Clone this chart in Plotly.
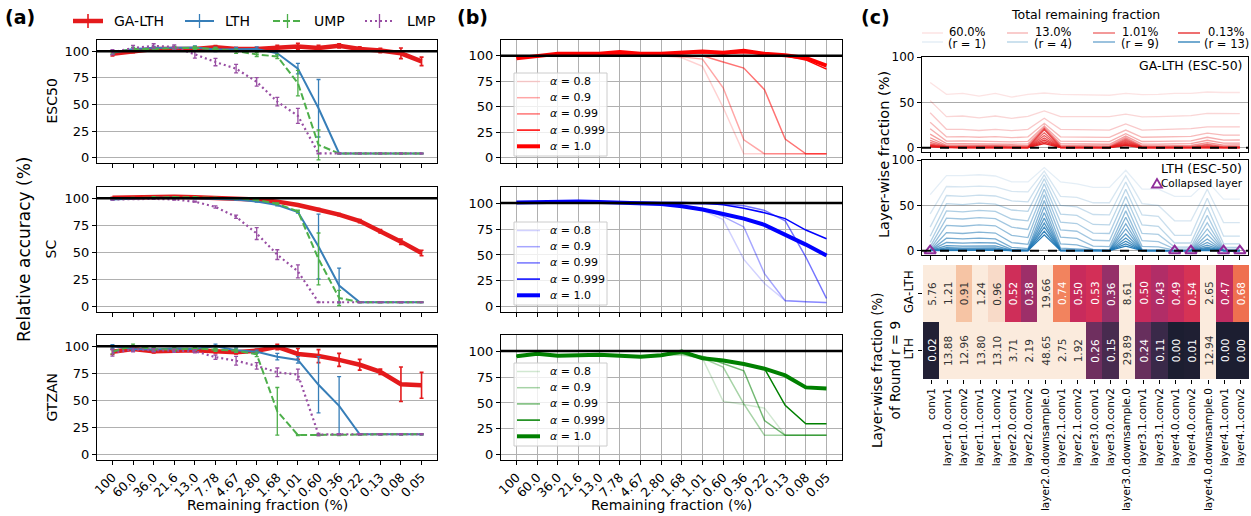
import plotly.graph_objects as go

W, H = 1251, 516
def X(px): return px / W
def Y(py): return 1 - py / H

FONT = "DejaVu Sans"

# ---------------- data ----------------
x_labels = ["100", "60.0", "36.0", "21.6", "13.0", "7.78", "4.67", "2.80",
            "1.68", "1.01", "0.60", "0.36", "0.22", "0.13", "0.08", "0.05"]
dataset_names = ["ESC50", "SC", "GTZAN"]

# Panel (a) - ESC50
ga_esc = [97.5, 100, 102, 102, 102, 103.7, 102, 102, 103, 104.3, 103, 105, 102, 100.6, 98, 90.4]
ga_esc_err = [2, 1.5, 1.5, 1.5, 2, 1.5, 1.5, 1.5, 2.5, 3, 2.5, 2, 2, 2, 5, 4]
lth_esc = [98.5, 102, 103, 103, 103.5, 101.5, 102, 102, 98, 83.6, 46.4, 4, 4, 4, 4, 4]
lth_esc_err = [1.5, 1.5, 1.5, 1.5, 1.5, 2, 1.5, 2, 1.5, 5, 27, 0.3, 0.3, 0.3, 0.3, 0.3]
ump_esc = [99, 102, 102, 103, 103, 102, 100, 97, 95, 70, 12, 4, 4, 4, 4, 4]
ump_esc_err = [1.5, 1.5, 1.5, 1.5, 1.5, 1.5, 2, 2, 2, 12, 14, 0.3, 0.3, 0.3, 0.3, 0.3]
lmp_esc = [99, 103, 105, 104, 97, 89.8, 83.6, 71.2, 52.6, 39.3, 4, 4, 4, 4, 4, 4]
lmp_esc_err = [2.5, 2.5, 2, 2, 3.5, 3.5, 4, 4, 4, 7, 0.3, 0.3, 0.3, 0.3, 0.3, 0.3]

# Panel (a) - SC
ga_sc = [100.5, 101, 101.5, 101.5, 101, 100.5, 100, 99, 97, 93.8, 89.5, 85, 79, 69.6, 60, 49.5]
ga_sc_err = [0.5, 0.5, 0.5, 0.5, 0.5, 0.5, 0.5, 0.5, 0.5, 0.8, 1, 1, 1.5, 1.5, 2.5, 2.5]
lth_sc = [99, 100, 100.5, 100.5, 100, 99.5, 99, 97, 93.8, 87.3, 55.5, 19.5, 4, 4, 4, 4]
lth_sc_err = [0.5, 0.5, 0.5, 0.5, 0.5, 0.5, 0.5, 0.5, 0.8, 1, 30, 16, 0.3, 0.3, 0.3, 0.3]
ump_sc = [100, 100.5, 101, 101, 101, 100.5, 100, 98.5, 95, 88, 44, 8, 4, 4, 4, 4]
ump_sc_err = [0.5, 0.5, 0.5, 0.5, 0.5, 0.5, 0.5, 0.5, 0.8, 1, 24, 7, 0.3, 0.3, 0.3, 0.3]
lmp_sc = [99, 99.5, 99.5, 99, 97, 92, 83, 67.5, 48, 32.5, 4, 4, 4, 4, 4, 4]
lmp_sc_err = [0.5, 0.5, 0.5, 0.5, 0.5, 1, 1.5, 5.5, 4.5, 6, 0.3, 0.3, 0.3, 0.3, 0.3, 0.3]

# Panel (a) - GTZAN
ga_gt = [95, 97.5, 95.5, 96, 96.5, 95.5, 94.5, 96, 99.5, 93, 91, 87.5, 83, 76.5, 65, 64]
ga_gt_err = [2.5, 1.5, 1.5, 1.5, 1.5, 1.5, 1.5, 1.5, 2.5, 5, 6, 6, 5, 2.5, 16, 12]
lth_gt = [100, 97.5, 97, 98, 97.5, 100, 96.5, 95, 90.5, 87.5, 64.5, 45, 18.8, 18.8, 18.8, 18.8]
lth_gt_err = [1.5, 1.5, 1.5, 1.5, 1.5, 2, 2, 1.5, 3, 3, 26, 27, 0.5, 0.5, 0.5, 0.5]
ump_gt = [95, 100.5, 97.5, 97, 98, 97, 96, 92.6, 40, 18, 18, 18, 18.5, 18.8, 18.8, 18.8]
ump_gt_err = [2, 1.5, 1.5, 1.5, 1.5, 1.5, 1.5, 2, 22, 0.5, 0.5, 0.5, 0.5, 0.5, 0.5, 0.5]
lmp_gt = [94, 97, 96.5, 96, 95.5, 90, 86.7, 82, 76, 74, 18.5, 18.8, 18.8, 18.8, 18.8, 18.8]
lmp_gt_err = [3, 2, 1.5, 1.5, 1.5, 2, 4, 3, 4, 5, 1, 0.5, 0.5, 0.5, 0.5, 0.5]

# Panel (b) - alpha sweeps (alpha = 1.0 equals GA-LTH)
alpha_labels = ["0.8", "0.9", "0.99", "0.999", "1.0"]
esc_a08 = [98, 100, 101, 101, 101, 101, 101, 100, 98, 89.7, 49.4, 4, 4, 4, 4, 4]
esc_a09 = [98, 100, 101, 101, 101, 101, 101, 101, 99, 96.8, 68.7, 17.7, 4, 4, 4, 4]
esc_a099 = [98, 100, 101, 101, 101, 101, 101, 101, 100, 100, 94, 88, 66.8, 18.4, 4, 4]
esc_a0999 = [98, 100, 101, 102, 101, 102, 101, 101, 102, 103, 102, 103, 102, 100, 96, 87]
sc_a08 = [100, 100.5, 101, 101, 100.5, 100, 99.5, 98.5, 97, 93, 84, 45.7, 22.5, 6, 5, 4]
sc_a09 = [100, 100.5, 101, 101, 100.5, 100, 99.5, 99, 97.5, 95, 87, 77, 32, 5.8, 5, 4.2]
sc_a099 = [100.5, 101, 101, 101, 101, 100.5, 100, 100, 99.5, 99, 99, 97.5, 93, 83, 48, 8]
sc_a0999 = [100.5, 101, 101, 101, 101, 101, 101, 100.5, 100.5, 100, 98.4, 95, 90.7, 85, 74, 65.6]
gt_a08 = [95, 97, 95.5, 96, 96.5, 96, 95, 96, 96, 93, 51.6, 48.4, 45, 18.8, 18.8, 18.8]
gt_a09 = [95, 97, 95.5, 96, 96.5, 96, 95, 96, 97, 93, 84.5, 49, 18.8, 18.8, 18.8, 18.8]
gt_a099 = [95, 97, 95.5, 96, 96.5, 96, 95, 96, 98, 95, 88, 81, 33, 18.8, 18.8, 18.8]
gt_a0999 = [95, 97.5, 95.5, 96, 96.5, 95.5, 94.5, 96, 99, 93, 91, 87.5, 83, 47.7, 30, 30]

# Panel (c) - layer-wise remaining fraction (%) per pruning round r = 1..15
layer_names = ["conv1", "layer1.0.conv1", "layer1.0.conv2", "layer1.1.conv1", "layer1.1.conv2",
               "layer2.0.conv1", "layer2.0.conv2", "layer2.0.downsample.0", "layer2.1.conv1",
               "layer2.1.conv2", "layer3.0.conv1", "layer3.0.conv2", "layer3.0.downsample.0",
               "layer3.1.conv1", "layer3.1.conv2", "layer4.0.conv1", "layer4.0.conv2",
               "layer4.0.downsample.0", "layer4.1.conv1", "layer4.1.conv2"]

ga_layer_frac = [
    [72, 59, 60, 57, 60, 56, 59, 60.5, 59, 58.7, 58.7, 58, 60, 58.7, 59, 60, 60, 61.6, 61, 61],
    [52, 34.3, 35, 33, 35, 32.5, 34.7, 40.6, 34.3, 34.3, 34.3, 34.3, 37, 34, 34.3, 35, 35.4, 38, 37.6, 37.6],
    [38.7, 20.3, 20.3, 19, 20.3, 18.8, 20.3, 32.5, 20.3, 20, 19.5, 19.5, 26.2, 19.5, 20, 20.7, 21, 23, 23, 22.9],
    [28, 12, 12.2, 11.5, 12.2, 11, 12, 27, 12, 11.8, 11.6, 11.4, 19.5, 11.5, 11.8, 12.2, 12.5, 16, 13.8, 13.8],
    [21, 7.3, 7.4, 7, 7.4, 6.5, 7, 24, 7.2, 7, 6.8, 6.6, 15.5, 6.8, 6.9, 7.4, 7.6, 11.5, 8.3, 8.5],
    [15, 4.4, 4.5, 4.2, 4.4, 3.8, 4.2, 22.5, 4.3, 4.1, 4, 3.8, 12.8, 4, 4, 4.4, 4.5, 8.2, 5, 5.1],
    [11, 2.7, 2.7, 2.6, 2.6, 2.1, 2.2, 21.3, 2.5, 2.2, 2.2, 1.9, 11, 2.1, 2, 2.3, 2.4, 5.5, 2.8, 3],
    [8, 1.8, 1.6, 1.8, 1.6, 1.1, 1, 20.4, 1.4, 1.1, 1.1, 0.9, 9.6, 1.1, 1, 1.1, 1.2, 3.8, 1.3, 1.5],
    [5.76, 1.21, 0.91, 1.24, 0.96, 0.52, 0.38, 19.66, 0.74, 0.50, 0.53, 0.36, 8.61, 0.50, 0.43, 0.49, 0.54, 2.65, 0.47, 0.68],
    [4.2, 0.8, 0.55, 0.82, 0.6, 0.26, 0.18, 16.5, 0.42, 0.26, 0.28, 0.17, 7.3, 0.25, 0.2, 0.23, 0.26, 1.8, 0.22, 0.36],
    [3.2, 0.55, 0.33, 0.55, 0.36, 0.13, 0.08, 13.5, 0.24, 0.13, 0.15, 0.08, 6.1, 0.12, 0.09, 0.11, 0.12, 1.2, 0.1, 0.19],
    [2.4, 0.36, 0.2, 0.37, 0.22, 0.06, 0.04, 10.8, 0.13, 0.06, 0.07, 0.04, 5, 0.06, 0.04, 0.05, 0.06, 0.8, 0.05, 0.1],
    [1.8, 0.24, 0.12, 0.25, 0.13, 0.03, 0.02, 8.4, 0.07, 0.03, 0.04, 0.02, 4, 0.03, 0.02, 0.02, 0.03, 0.5, 0.02, 0.05],
    [1.3, 0.16, 0.07, 0.17, 0.08, 0.01, 0.01, 6.3, 0.04, 0.01, 0.02, 0.01, 3.1, 0.01, 0.01, 0.01, 0.01, 0.3, 0.01, 0.03],
    [1.0, 0.1, 0.04, 0.11, 0.05, 0.01, 0.0, 4.6, 0.02, 0.01, 0.01, 0.0, 2.4, 0.01, 0.0, 0.01, 0.01, 0.2, 0.01, 0.01],
]

lth_layer_frac = [
    [62, 83, 83, 84, 82.6, 76, 76, 92, 76, 74, 70, 70, 89, 68, 68, 60, 60, 77, 57, 57],
    [40.7, 71, 70.5, 71.5, 70.5, 65.5, 65, 88, 60, 59, 53, 53, 83, 52, 50, 33, 33, 68, 31, 31],
    [26, 61, 60, 61.5, 60.5, 55, 54, 84, 50, 48.5, 40, 39.5, 76, 39.5, 38, 17, 17, 58, 16, 16],
    [16, 52, 51, 52.5, 51.5, 45, 43.5, 79.5, 40.5, 39, 29, 28.5, 68, 28.5, 27, 8.5, 8.5, 48, 7.5, 7.5],
    [9, 44, 43, 44.5, 43.5, 35, 33, 74, 31.5, 30, 19.5, 19, 60, 19, 18, 4, 4, 39, 3.5, 3.5],
    [4.5, 36, 35, 36.5, 35.5, 26, 23.5, 68, 23, 21.5, 11.5, 11, 52, 11, 10, 1.7, 1.7, 31, 1.5, 1.5],
    [1.8, 28, 27, 28.5, 27.5, 17, 14.5, 62, 15, 13.5, 5, 4.5, 44, 4.8, 4.2, 0.6, 0.6, 24, 0.5, 0.5],
    [0.5, 20, 19, 20.5, 19.5, 9, 7, 55.5, 7.5, 6.5, 1.5, 1.2, 37, 1.4, 1.1, 0.15, 0.16, 18, 0.1, 0.1],
    [0.02, 13.88, 12.96, 13.80, 13.10, 3.71, 2.19, 48.65, 2.75, 1.92, 0.26, 0.15, 29.89, 0.24, 0.11, 0.00, 0.01, 12.94, 0.00, 0.00],
    [0, 9, 8.3, 9, 8.5, 1.5, 0.8, 42, 1.0, 0.6, 0.05, 0.03, 24, 0.04, 0.02, 0, 0, 9, 0, 0],
    [0, 5.5, 5, 5.5, 5.2, 0.6, 0.3, 36, 0.35, 0.2, 0.01, 0, 18.5, 0.01, 0, 0, 0, 6, 0, 0],
    [0, 3.2, 2.9, 3.2, 3, 0.2, 0.1, 30.5, 0.12, 0.06, 0, 0, 14, 0, 0, 0, 0, 4, 0, 0],
    [0, 1.8, 1.6, 1.8, 1.7, 0.08, 0.04, 26, 0.04, 0.02, 0, 0, 10.5, 0, 0, 0, 0, 2.5, 0, 0],
    [0, 0.9, 0.8, 0.9, 0.85, 0.03, 0.01, 21.5, 0.01, 0.01, 0, 0, 7.5, 0, 0, 0, 0, 1.5, 0, 0],
    [0, 0.4, 0.35, 0.4, 0.38, 0.01, 0, 17.5, 0, 0, 0, 0, 5, 0, 0, 0, 0, 0.8, 0, 0],
]
collapsed_layers = ["conv1", "layer4.0.conv1", "layer4.0.conv2", "layer4.1.conv1", "layer4.1.conv2"]
heat_round = 9
legend_rounds = [1, 4, 9, 13]

# ---------------- styles ----------------
RED, BLUE, GREEN, PURPLE = "#e41a1c", "#377eb8", "#4daf4a", "#984ea3"
COLLAPSE = "#8e2c9a"
GRID = "#b0b0b0"

def rgba(rgb, a):
    return "rgba(%d,%d,%d,%.3f)" % (rgb[0], rgb[1], rgb[2], a)

def round_alpha(r):
    return 0.06 * r + 0.06

fig = go.Figure()

def axis_base(**kw):
    d = dict(showline=True, linecolor="black", linewidth=1.3, mirror=True,
             ticks="outside", ticklen=4, tickwidth=1, tickcolor="black",
             tickfont=dict(size=13, color="black", family=FONT), zeroline=False,
             automargin=False)
    d.update(kw)
    return d

rows = [(40, 163), (187, 312), (335, 460)]
a_x = (97, 437)
b_x = (501, 842)

layout_axes = {}
for i, (t, b) in enumerate(rows):
    for j, (x0, x1) in enumerate([a_x, b_x]):
        n = i + 1 + 3 * j
        xa = "xaxis" if n == 1 else "xaxis%d" % n
        ya = "yaxis" if n == 1 else "yaxis%d" % n
        yref = "y" if n == 1 else "y%d" % n
        xref = "x" if n == 1 else "x%d" % n
        layout_axes[xa] = axis_base(domain=[X(x0), X(x1)], anchor=yref, type="category",
                                    categoryorder="array", categoryarray=x_labels,
                                    range=[-0.75, 15.75], tickangle=-45,
                                    tickfont=dict(size=12.5, color="black", family=FONT),
                                    showticklabels=(i == 2), showgrid=(j == 1),
                                    gridcolor=GRID, gridwidth=1)
        yr = [-5, 110.5] if j == 0 else [-5, 115.5]
        layout_axes[ya] = axis_base(domain=[Y(b), Y(t)], anchor=xref, range=yr,
                                    tickvals=[0, 25, 50, 75, 100], showgrid=True,
                                    gridcolor=GRID, gridwidth=1)

# ---------------- panel (a) traces ----------------
a_data = [
    (ga_esc, ga_esc_err, lth_esc, lth_esc_err, ump_esc, ump_esc_err, lmp_esc, lmp_esc_err),
    (ga_sc, ga_sc_err, lth_sc, lth_sc_err, ump_sc, ump_sc_err, lmp_sc, lmp_sc_err),
    (ga_gt, ga_gt_err, lth_gt, lth_gt_err, ump_gt, ump_gt_err, lmp_gt, lmp_gt_err),
]
series_style = [("GA-LTH", RED, 4.5, "solid", 1.6),
                ("LTH", BLUE, 2, "solid", 1.3),
                ("UMP", GREEN, 2, "7px,3px", 1.3),
                ("LMP", PURPLE, 2.2, "2px,3px", 1.3)]
for i, dat in enumerate(a_data):
    n = i + 1
    xr = "x" if n == 1 else "x%d" % n
    yr = "y" if n == 1 else "y%d" % n
    for k, (name, col, w, dash, ew) in enumerate(series_style):
        fig.add_trace(go.Scatter(
            x=x_labels, y=dat[2 * k], mode="lines", name=name,
            line=dict(color=col, width=w, dash=dash),
            error_y=dict(type="data", array=dat[2 * k + 1], color=col, thickness=ew, width=2),
            xaxis=xr, yaxis=yr, showlegend=False, hoverinfo="skip"))

# ---------------- panel (b) traces ----------------
b_sets = [
    ([esc_a08, esc_a09, esc_a099, esc_a0999, ga_esc], (255, 0, 0), 73),
    ([sc_a08, sc_a09, sc_a099, sc_a0999, ga_sc], (0, 0, 255), 222),
    ([gt_a08, gt_a09, gt_a099, gt_a0999, ga_gt], (0, 128, 0), 363),
]
b_alpha = [0.18, 0.35, 0.55, 1.0, 1.0]
b_width = [1.5, 1.5, 1.5, 1.5, 4]
for i, (series, rgb, _) in enumerate(b_sets):
    n = i + 4
    for k, ys in enumerate(series):
        fig.add_trace(go.Scatter(
            x=x_labels, y=ys, mode="lines", name="<i>α</i> = " + alpha_labels[k],
            line=dict(color=rgba(rgb, b_alpha[k]), width=b_width[k]),
            xaxis="x%d" % n, yaxis="y%d" % n, showlegend=False, hoverinfo="skip"))

# ---------------- panel (c) ----------------
c_x = (922, 1248)
c_top = (57, 152)
c_bot = (160, 255)
heat_rows = (265, 379)
for n, (t, b) in zip([7, 8], [c_top, c_bot]):
    layout_axes["xaxis%d" % n] = axis_base(domain=[X(c_x[0]), X(c_x[1])], anchor="y%d" % n,
                                           type="category", categoryorder="array",
                                           categoryarray=layer_names, range=[-0.5, 19.5],
                                           showticklabels=False, showgrid=False)
    layout_axes["yaxis%d" % n] = axis_base(domain=[Y(b), Y(t)], anchor="x%d" % n,
                                           range=[-4.8, 100.3], tickvals=[0, 50, 100],
                                           showgrid=True, gridcolor="#aaaaaa", gridwidth=1,
                                           tickfont=dict(size=12, color="black", family=FONT))

for r, row in enumerate(ga_layer_frac, start=1):
    fig.add_trace(go.Scatter(x=layer_names, y=row, mode="lines",
                             line=dict(color=rgba((228, 26, 28), round_alpha(r)), width=1.3),
                             xaxis="x7", yaxis="y7", showlegend=False, hoverinfo="skip"))
for r, row in enumerate(lth_layer_frac, start=1):
    fig.add_trace(go.Scatter(x=layer_names, y=row, mode="lines",
                             line=dict(color=rgba((31, 119, 180), round_alpha(r)), width=1.3),
                             xaxis="x8", yaxis="y8", showlegend=False, hoverinfo="skip"))
fig.add_trace(go.Scatter(x=collapsed_layers, y=[0] * len(collapsed_layers), mode="markers",
                         name="Collapsed layer",
                         marker=dict(symbol="triangle-up-open", size=10, color=COLLAPSE,
                                     line=dict(width=2, color=COLLAPSE)),
                         xaxis="x8", yaxis="y8", showlegend=False, hoverinfo="skip"))

heat_z = [ga_layer_frac[heat_round - 1], lth_layer_frac[heat_round - 1]]
heat_y = ["GA-LTH", "LTH"]
rocket = [[0.0, "#1c1e31"], [0.12, "#3d2a4b"], [0.25, "#6b2f5e"], [0.37, "#99306a"],
          [0.44, "#b52c66"], [0.5, "#c82b5c"], [0.53, "#d32f57"], [0.56, "#dd3c50"],
          [0.62, "#e7544c"], [0.68, "#ef7050"], [0.74, "#f2835e"], [0.82, "#f4a07c"],
          [0.91, "#f6c4a4"], [0.96, "#f8dac8"], [1.0, "#fbebdd"]]
fig.add_trace(go.Heatmap(z=heat_z, x=layer_names, y=heat_y, colorscale=rocket, zmin=0, zmax=1,
                         showscale=False, xaxis="x9", yaxis="y9", hoverinfo="skip"))
layout_axes["xaxis9"] = axis_base(domain=[X(923), X(1249)], anchor="y9", type="category",
                                  categoryorder="array", categoryarray=layer_names,
                                  range=[-0.5, 19.5], tickangle=-90, showline=False, mirror=False,
                                  tickfont=dict(size=10.5, color="black", family=FONT), showgrid=False)
layout_axes["yaxis9"] = axis_base(domain=[Y(heat_rows[1]), Y(heat_rows[0])], anchor="x9",
                                  type="category", categoryorder="array", categoryarray=heat_y,
                                  range=[1.5, -0.5], tickangle=-90, showline=False, mirror=False,
                                  tickfont=dict(size=12, color="black", family=FONT), showgrid=False)

annotations = []
for ri, row in enumerate(heat_z):
    for ci, v in enumerate(row):
        annotations.append(dict(x=layer_names[ci], y=heat_y[ri], xref="x9", yref="y9",
                                text="%.2f" % v, showarrow=False, textangle=-90,
                                font=dict(size=10.5, family=FONT,
                                          color="white" if v < 0.8 else "#333333")))

# ---------------- shapes ----------------
shapes = []
for n in range(1, 7):
    xr = "x" if n == 1 else "x%d" % n
    yr = "y" if n == 1 else "y%d" % n
    shapes.append(dict(type="line", xref=xr + " domain", yref=yr, x0=0, x1=1, y0=100, y1=100,
                       line=dict(color="black", width=2.5), layer="above"))
for n in [7, 8]:
    shapes.append(dict(type="line", xref="x%d domain" % n, yref="y%d" % n, x0=0, x1=1, y0=0, y1=0,
                       line=dict(color="black", width=2, dash="dash"), layer="above"))

def pline(x0, x1, y0, y1, color, width, dash="solid"):
    shapes.append(dict(type="line", xref="paper", yref="paper", x0=X(x0), x1=X(x1),
                       y0=Y(y0), y1=Y(y1), line=dict(color=color, width=width, dash=dash),
                       layer="above"))

def txt(x, y, s, size, angle=0, xanchor="center", bold=False):
    annotations.append(dict(x=X(x), y=Y(y), xref="paper", yref="paper", showarrow=False,
                            text=("<b>%s</b>" % s) if bold else s, textangle=angle, xanchor=xanchor,
                            yanchor="middle", font=dict(size=size, family=FONT, color="black")))

# panel (a) legend (manual, matplotlib-like with errorbar tick)
a_leg_pos = [(73, 103, 112), (185, 214, 223), (273, 302, 312), (365, 394, 405)]
for (name, col, w, dash, ew), (lx0, lx1, tx) in zip(series_style, a_leg_pos):
    pline(lx0, lx1, 21, 21, col, w, dash)
    pline((lx0 + lx1) / 2, (lx0 + lx1) / 2, 14, 28, col, ew)
    txt(tx, 21, name, 14, xanchor="left")

for name, (t, b) in zip(dataset_names, rows):
    txt(51, (t + b) / 2, name, 14, angle=-90)

# panel (b) legends (manual boxes)
for series, rgb, top in b_sets:
    shapes.append(dict(type="rect", xref="paper", yref="paper", x0=X(514), x1=X(607),
                       y0=Y(top + 83), y1=Y(top), fillcolor="rgba(255,255,255,0.8)",
                       line=dict(color="#cccccc", width=1), layer="above"))
    for k in range(5):
        yy = top + 8.5 + 16.2 * k
        pline(517, 540, yy, yy, rgba(rgb, b_alpha[k]), b_width[k])
        txt(548, yy, "<i>α</i> = " + alpha_labels[k], 11, xanchor="left")

# panel c custom legend
leg_cols = [(922, 943, 967), (1007, 1028, 1053), (1093, 1115, 1140), (1178, 1200, 1226)]
for r, (lx0, lx1, tx) in zip(legend_rounds, leg_cols):
    pline(lx0, lx1, 33, 33, rgba((228, 26, 28), round_alpha(r)), 1.5)
    pline(lx0, lx1, 42, 42, rgba((31, 119, 180), round_alpha(r)), 1.5)
    txt(tx, 32, "%s%%" % x_labels[r], 11.5)
    txt(tx, 44, "(r = %d)" % r, 11.5)
txt(1085, 14, "Total remaining fraction", 12.5)

# "Collapsed layer" legend entry (triangle glyph + label)
tri = "M %f,%f L %f,%f L %f,%f Z" % (X(1152), Y(187.5), X(1162), Y(187.5), X(1157), Y(179))
shapes.append(dict(type="path", xref="paper", yref="paper", path=tri,
                   line=dict(color=COLLAPSE, width=1.8), fillcolor="rgba(0,0,0,0)", layer="above"))
txt(1245, 183, "Collapsed layer", 10.5, xanchor="right")

txt(20, 17, "(a)", 19, bold=True)
txt(472, 17, "(b)", 19, bold=True)
txt(875, 17, "(c)", 19, bold=True)
txt(24, 250, "Relative accuracy (%)", 17, angle=-90)
txt(267, 505, "Remaining fraction (%)", 14)
txt(671, 505, "Remaining fraction (%)", 14)
txt(1244, 65, "GA-LTH (ESC-50)", 12.5, xanchor="right")
txt(1244, 168, "LTH (ESC-50)", 12.5, xanchor="right")
txt(884, 155, "Layer-wise fraction (%)", 14.5, angle=-90)
txt(886, 370, "Layer-wise fraction (%)<br>of Round r = 9", 13.5, angle=-90)

fig.update_layout(
    width=W, height=H, margin=dict(l=0, r=0, t=0, b=0), template="none",
    paper_bgcolor="white", plot_bgcolor="white",
    font=dict(family=FONT, color="black"), showlegend=False,
    shapes=shapes, annotations=annotations,
    **layout_axes)

fig.write_html("out.html", config={"displayModeBar": False},
               post_script="document.body.style.margin='0px';document.body.style.overflow='hidden';")
